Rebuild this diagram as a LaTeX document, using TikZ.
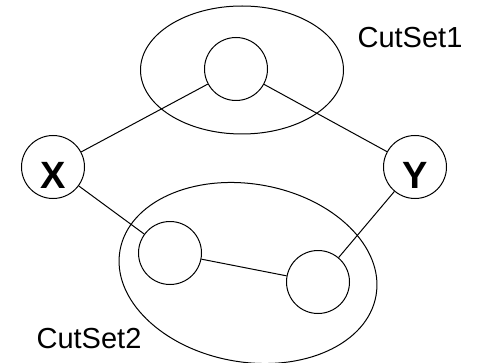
\documentclass[tikz,border=0pt]{standalone}
\usepackage{fontspec}
\setmainfont{Liberation Sans}
\usepackage{tikz}
\usetikzlibrary{positioning,shapes}

\begin{document}
\begin{tikzpicture}[auto,
    x=1pt, y=-1pt,
    line width=1pt,
    cc/.style={%
      circle, draw=black, minimum size=63pt, inner sep=0pt
    },
    cs/.style={%
      ellipse, draw=black, inner sep=0pt
    },
    lbl/.style={%
      font=\fontsize{29}{34}\selectfont, inner sep=0pt
    },
    endp/.style={%
      font=\bfseries\fontsize{38}{42}\selectfont, inner sep=0pt
    }
]
    \useasboundingbox (0,0) rectangle (478,363);

    % the two cut sets
    \node[cs, minimum width=203pt, minimum height=128pt] (cs1) at (242,70) {};
    \node[cs, minimum width=260pt, minimum height=178pt, rotate=-10] (cs2) at (248,273) {};

    \node[cc] (m) at (236,69)  {};
    \node[cc] (a) at (170,253) {};
    \node[cc] (b) at (318,282) {};
    \node[cc, label={[endp, yshift=-8pt]center:X}] (x) at (53,167)  {};
    \node[cc, label={[endp, yshift=-8pt]center:Y}] (y) at (415,167) {};

    \node[lbl] (l1) at (410,38) {CutSet1};
    \node[lbl] (l2) at (89,339) {CutSet2};

    \path (x) edge node {} (m)
          (m) edge node {} (y)
          (x) edge node {} (a)
          (a) edge node {} (b)
          (b) edge node {} (y)
    ;

\end{tikzpicture}
\end{document}
